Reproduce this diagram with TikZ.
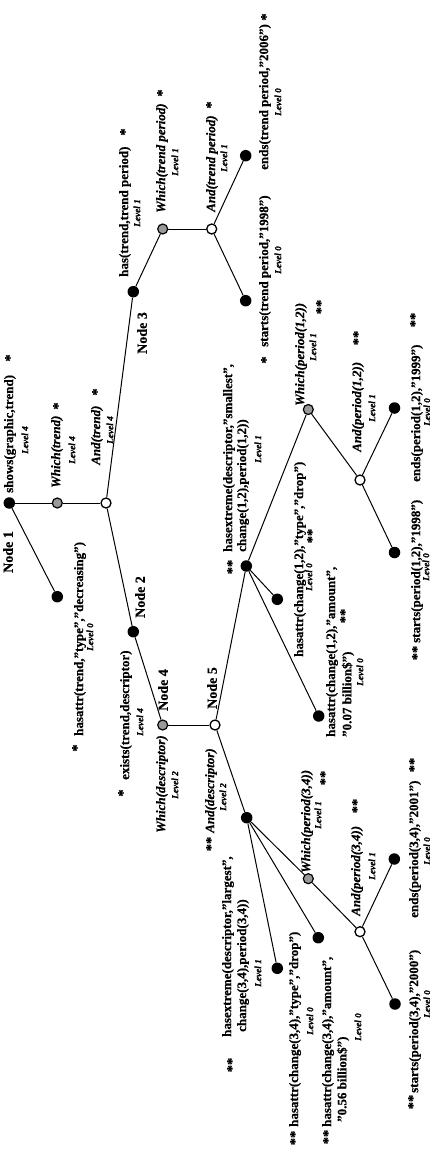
\documentclass[tikz,border=0pt]{standalone}
\usepackage{fontspec}
\setmainfont{Liberation Serif}[BoldFeatures={FakeBold=0.6}, BoldItalicFeatures={FakeBold=0.6}]
\usepackage{tikz}
\usetikzlibrary{positioning}
\tikzset{
  fact/.style    = {rotate=90, anchor=west, inner sep=0pt, font=\fontsize{13}{14}\selectfont\bfseries},
  oper/.style    = {fact, font=\fontsize{13}{14}\selectfont\bfseries\itshape},
  lvl/.style     = {rotate=90, inner sep=0pt, font=\fontsize{9.3}{10}\selectfont\bfseries\itshape},
  ast/.style     = {rotate=90, inner sep=0pt, font=\fontsize{14.5}{15}\selectfont\bfseries},
  nodelbl/.style = {rotate=90, inner sep=0pt, font=\fontsize{14}{15}\selectfont\bfseries},
  leaf/.style    = {circle, fill=black, inner sep=0pt, minimum size=11.5pt},
  which/.style   = {circle, draw=black, fill=black!40, line width=1.2pt, inner sep=0pt, minimum size=10pt},
  conj/.style    = {circle, draw=black, fill=white, line width=1.3pt, inner sep=0pt, minimum size=10pt},
  link/.style    = {draw=black, line width=1pt},
}

\begin{document}
\begin{tikzpicture}[x=1pt,y=-1pt]
  \useasboundingbox (0,0) rectangle (430,1156);

  % ---------- dots ----------
  \foreach \n/\x/\y in {n1/9.3/503, n3/133.3/291.7, etp/245.7/155.7, stp/245.7/300.7,
    hatr/57.3/596.7, n2/133.3/631.7, hx12/246.3/566, ty12/277.3/599.3, am12/318.7/716,
    ep12/394.5/408, sp12/394.5/552.5, hx34/246.7/817.7, ep34/394.3/859, sp34/395/1004,
    ty34/318.3/937.7, am34/277.3/968.3}
    \node[leaf] (\n) at (\x,\y) {};
  \foreach \n/\x/\y in {wtr/57.3/503, wtp/162.7/229, n4/162.7/725, wp12/308.3/409.5, wp34/308.3/878.7}
    \node[which] (\n) at (\x,\y) {};
  \foreach \n/\x/\y in {atr/106/503, atp/211.7/229, n5/215/725, ap12/360/480, ap34/360/931.7}
    \node[conj] (\n) at (\x,\y) {};

  % ---------- links ----------
  \foreach \a/\b in {n1/wtr, wtr/atr, n1/hatr, atr/n3, atr/n2, n3/wtp, wtp/atp, atp/etp, atp/stp,
    n2/n4, n4/n5, n5/hx12, n5/hx34, hx12/wp12, hx12/ty12, hx12/am12, wp12/ap12, ap12/ep12,
    ap12/sp12, hx34/wp34, hx34/ty34, hx34/am34, wp34/ap34, ap34/ep34, ap34/sp34}
    \draw[link] (\a) -- (\b);

  % ---------- node names ----------
  \foreach \x/\y/\k in {8/552/1, 140/597/2, 142/333/3, 163/690/4, 212/688/5}
    \node[nodelbl] (name\k) at (\x,\y) {Node \k};

  % ---------- trend ----------
  \node[fact] (tshows) at (10,493) {shows(graphic,trend)};
  \node[oper] (twhich) at (57,488) {Which(trend)};
  \node[oper] (tand) at (97,465) {And(trend)};
  \node[fact] (tattr) at (80,736) {hasattr(trend,"type","decreasing")};
  \node[fact] (texists) at (126,780) {exists(trend,descriptor)};

  % ---------- trend period ----------
  \node[fact] (phas) at (125,277) {has(trend,trend period)};
  \node[oper] (pwhich) at (162,213) {Which(trend period)};
  \node[oper] (pand) at (212,212) {And(trend period)};
  \node[fact] (pends) at (265,170) {ends(trend period,"2006")};
  \node[fact] (pstarts) at (265,347) {starts(trend period,"1998")};

  % ---------- descriptor ----------
  \node[oper] (dwhich) at (162,833) {Which(descriptor)};
  \node[oper] (dand) at (211,833) {And(descriptor)};

  % ---------- change(1,2) ----------
  \node[fact] (ahx1) at (229,552) {hasextreme(descriptor,"smallest",};
  \node[fact] (ahx2) at (243,552) {change(1,2),period(1,2))};
  \node[fact] (atype) at (300,657) {hasattr(change(1,2),"type","drop")};
  \node[fact] (aamt1) at (332,737) {hasattr(change(1,2),"amount",};
  \node[fact] (aamt2) at (348,737) {"0.07 billion\$")};
  \node[oper] (awhich) at (301,406) {Which(period(1,2))};
  \node[oper] (aand) at (358,452) {And(period(1,2))};
  \node[fact] (astarts) at (417,643) {starts(period(1,2),"1998")};
  \node[fact] (aends) at (417,482) {ends(period(1,2),"1999")};

  % ---------- change(3,4) ----------
  \node[fact] (bhx1) at (228,1037) {hasextreme(descriptor,"largest",};
  \node[fact] (bhx2) at (243,1032) {change(3,4),period(3,4))};
  \node[fact] (btype) at (295,1127) {hasattr(change(3,4),"type","drop")};
  \node[fact] (bamt1) at (328,1127) {hasattr(change(3,4),"amount",};
  \node[fact] (bamt2) at (343,1122) {"0.56 billion\$")};
  \node[oper] (bwhich) at (307,873) {Which(period(3,4))};
  \node[oper] (band) at (357,916) {And(period(3,4))};
  \node[fact] (bstarts) at (415,1093) {starts(period(3,4),"2000")};
  \node[fact] (bends) at (415,918) {ends(period(3,4),"2001")};

  % ---------- levels ----------
  \foreach \x/\y/\l [count=\i] in {137/213/1, 175/162/1, 224/158/1, 278/102/0, 278/260/0,
    25/440/4, 72/450/4, 110/430/4, 90/637/0, 140/722/4, 175/785/2, 223/797/2,
    258/449/1, 309/577/0, 360/672/0, 426/567/0, 427/412/0, 313/347/1, 372/408/1,
    258/973/1, 310/1021/0, 358/1027/0, 427/1004/0, 427/851/0, 318/815/1, 372/866/1}
    \node[lvl] (lv\i) at (\x,\y) {Level \l};

  % ---------- stars ----------
  \foreach \x/\y/\s [count=\i] in {125/132/*, 162/93/*, 211/105/*, 266/17/*, 266/360/*,
    10/358/*, 58/406/*, 97/392/*, 77/748/*, 123/793/*, 211/844/**,
    232/567/**, 312/536/**, 345/616/**, 417/653/**, 415/320/**, 321/307/**, 358/338/**,
    232/1065/**, 295/1138/**, 328/1137/**, 413/1102/**, 414/765/**, 325/778/**, 357/806/**}
    \node[ast] (st\i) at (\x,\y) {\s};
\end{tikzpicture}
\end{document}
